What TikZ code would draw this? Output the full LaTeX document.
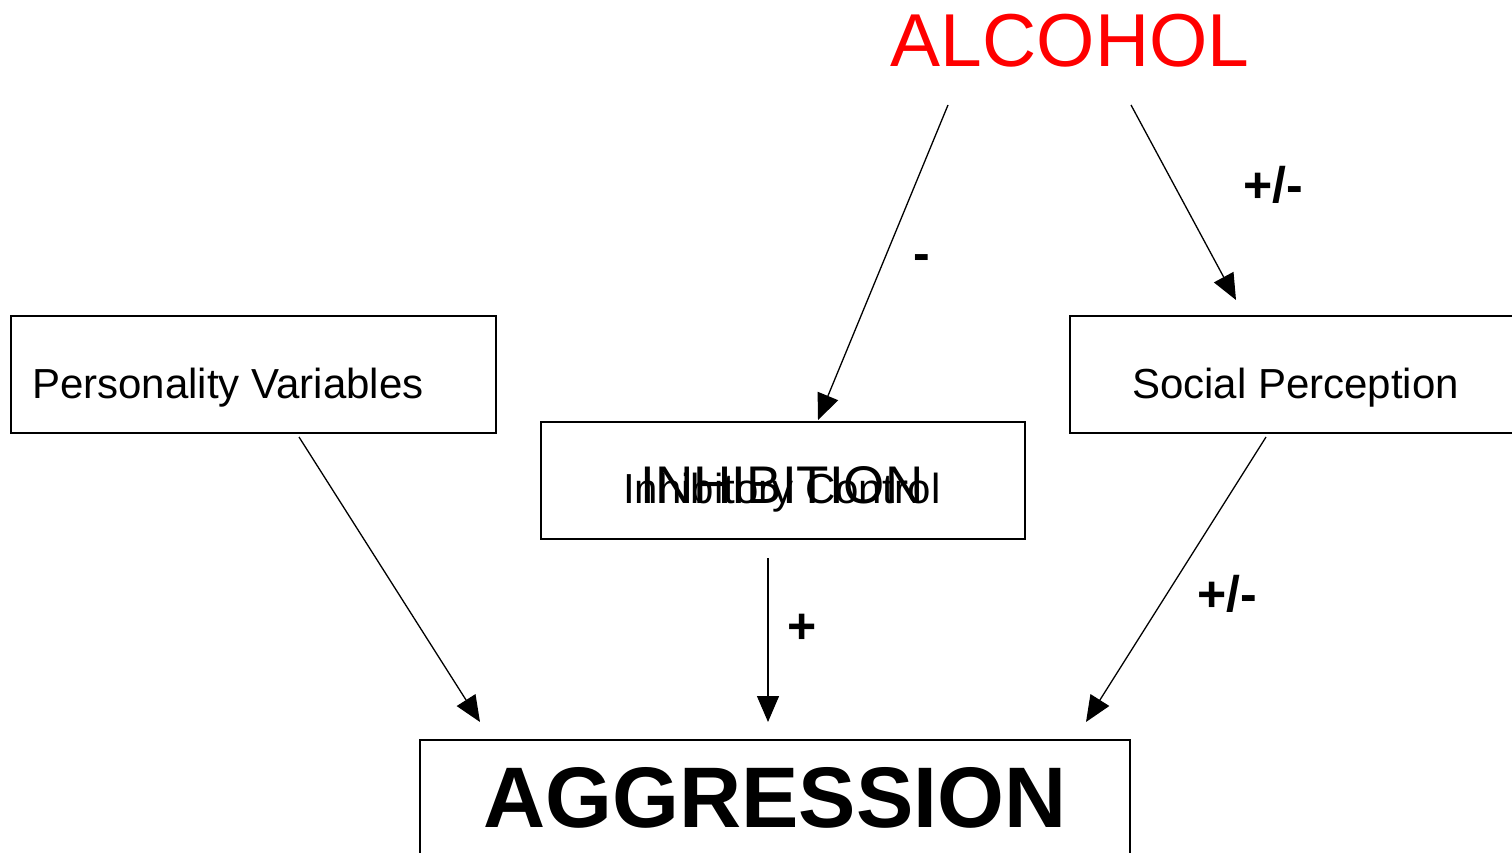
\documentclass[tikz,border=0pt]{standalone}
\usepackage{fontspec}
\setmainfont{Liberation Sans}
\usetikzlibrary{arrows.meta}
\usetikzlibrary{positioning}

\tikzset{
  box/.style={draw, line width=1.6pt},
  link/.style={line width=1.3pt, -{Triangle[length=26pt,width=22pt]}},
  sign/.style={font=\fontsize{50}{56}\selectfont\bfseries, inner sep=0pt, anchor=base}
}

\begin{document}
\begin{tikzpicture}[x=1pt, y=-1pt]
    \useasboundingbox (0,0) rectangle (1512,853);

    % boxes
    \draw[box] (11,316) rectangle (496,433);
    \draw[box] (541,422) rectangle (1025,539);
    \draw[box] (1070,316) rectangle (1560,433);
    \draw[box] (420,740) rectangle (1130,900);

    % texts
    \node (alc) [anchor=base, inner sep=0pt, text=red, font=\fontsize{75}{80}\selectfont] at (1070,67) {ALCOHOL};
    \node (pers) [anchor=base west, inner sep=0pt, font=\fontsize{42}{48}\selectfont] at (32,398) {Personality Variables};
    \node (soc) [anchor=base west, inner sep=0pt, font=\fontsize{42}{48}\selectfont] at (1132,398) {Social Perception};
    \node (inh) [anchor=base, inner sep=0pt, font=\fontsize{53}{58}\selectfont] at (782,503) {INHIBITION};
    \node (ctrl) [anchor=base, inner sep=0pt, font=\fontsize{42}{48}\selectfont] at (782,503) {Inhibitory Control};
    \node (agg) [anchor=base, inner sep=0pt, font=\fontsize{86}{90}\selectfont\bfseries] at (775,827) {AGGRESSION};

    % connector ends
    \coordinate (alcl) at (948,105);
    \coordinate (alcr) at (1131,105);
    \coordinate (inhin) at (818,420);
    \coordinate (socin) at (1236,300);
    \coordinate (persout) at (299,437);
    \coordinate (inhout) at (768,558);
    \coordinate (socout) at (1266,437);
    \coordinate (aggl) at (480,722);
    \coordinate (aggm) at (768,722);
    \coordinate (aggr) at (1086,722);

    \draw[link] (alcl) -- (inhin);
    \draw[link] (alcr) -- (socin);
    \draw[link] (persout) -- (aggl);
    \draw[link] (inhout) -- (aggm);
    \draw[link] (socout) -- (aggr);

    % signs
    \node (minus) [sign] at (922,270) {-};
    \node (pmtop) [sign] at (1273,203) {+/-};
    \node (plus) [sign] at (802,643) {+};
    \node (pmbot) [sign] at (1227,611) {+/-};
\end{tikzpicture}
\end{document}
